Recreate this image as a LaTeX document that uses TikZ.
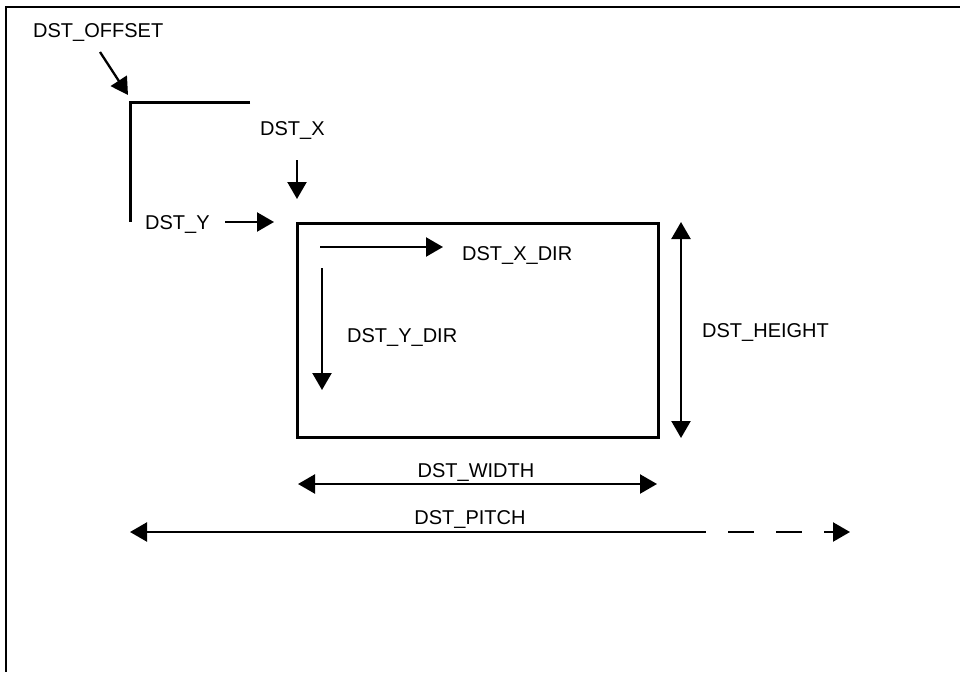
\documentclass[tikz,border=0pt]{standalone}
\usepackage{fontspec}
\setmainfont{Liberation Sans}
\usetikzlibrary{arrows.meta}
\tikzset{
  lbl/.style={anchor=base west, inner sep=0pt, font=\fontsize{20}{23}\selectfont},
  lblc/.style={anchor=base, inner sep=0pt, font=\fontsize{20}{23}\selectfont},
  tip/.style={},
  arr/.style={line width=2.3pt, -{Triangle[length=17pt,width=19pt]}},
  darr/.style={line width=2.3pt, {Triangle[length=17pt,width=19pt]}-{Triangle[length=17pt,width=19pt]}},
  thickline/.style={line width=3pt},
  framel/.style={line width=2pt}
}
\begin{document}
\begin{tikzpicture}[x=1pt,y=-1pt]
\useasboundingbox (0,0) rectangle (960,672);
% frame
\coordinate (f1) at (960,7);
\coordinate (f2) at (6,7);
\coordinate (f3) at (6,672);
\draw[framel] (f1) -- (f2) -- (f3);

% offset bracket
\coordinate (b1) at (250,102);
\coordinate (b2) at (130,102);
\coordinate (b3) at (130,222);
\draw[thickline] (b1) -- (b2) -- (b3);

% DST_OFFSET
\node[lbl] (toff) at (33,37) {DST\_OFFSET};
\coordinate (o1) at (100,52);
\coordinate (o2) at (128,95);
\draw[arr] (o1) -- (o2);

% DST_X
\node[lbl] (tx) at (260,135) {DST\_X};
\coordinate (x1) at (297,160);
\coordinate (x2) at (297,199);
\draw[arr] (x1) -- (x2);

% DST_Y
\node[lbl] (ty) at (145,229) {DST\_Y};
\coordinate (y1) at (225,222);
\coordinate (y2) at (274,222);
\draw[arr] (y1) -- (y2);

% rectangle
\coordinate (r1) at (297,223);
\coordinate (r2) at (658,437);
\draw[thickline] (r1) rectangle (r2);

% DST_X_DIR
\coordinate (xd1) at (320,247);
\coordinate (xd2) at (443,247);
\draw[arr] (xd1) -- (xd2);
\node[lbl] (txd) at (462,260) {DST\_X\_DIR};

% DST_Y_DIR
\coordinate (yd1) at (322,268);
\coordinate (yd2) at (322,390);
\draw[arr] (yd1) -- (yd2);
\node[lbl] (tyd) at (347,342) {DST\_Y\_DIR};

% DST_HEIGHT
\coordinate (h1) at (681,222);
\coordinate (h2) at (681,438);
\draw[darr] (h1) -- (h2);
\node[lbl] (th) at (702,337) {DST\_HEIGHT};

% DST_WIDTH
\coordinate (w1) at (298,484);
\coordinate (w2) at (657,484);
\draw[darr] (w1) -- (w2);
\node[lblc] (tw) at (476,477) {DST\_WIDTH};

% DST_PITCH
\coordinate (p1) at (130,532);
\coordinate (p2) at (706,532);
\coordinate (p3) at (728,532);
\coordinate (p4) at (850,532);
\draw[line width=2.3pt, {Triangle[length=17pt,width=19pt]}-] (p1) -- (p2);
\draw[arr, dash pattern=on 26pt off 22pt] (p3) -- (p4);
\node[lblc] (tp) at (470,524) {DST\_PITCH};
\end{tikzpicture}
\end{document}
